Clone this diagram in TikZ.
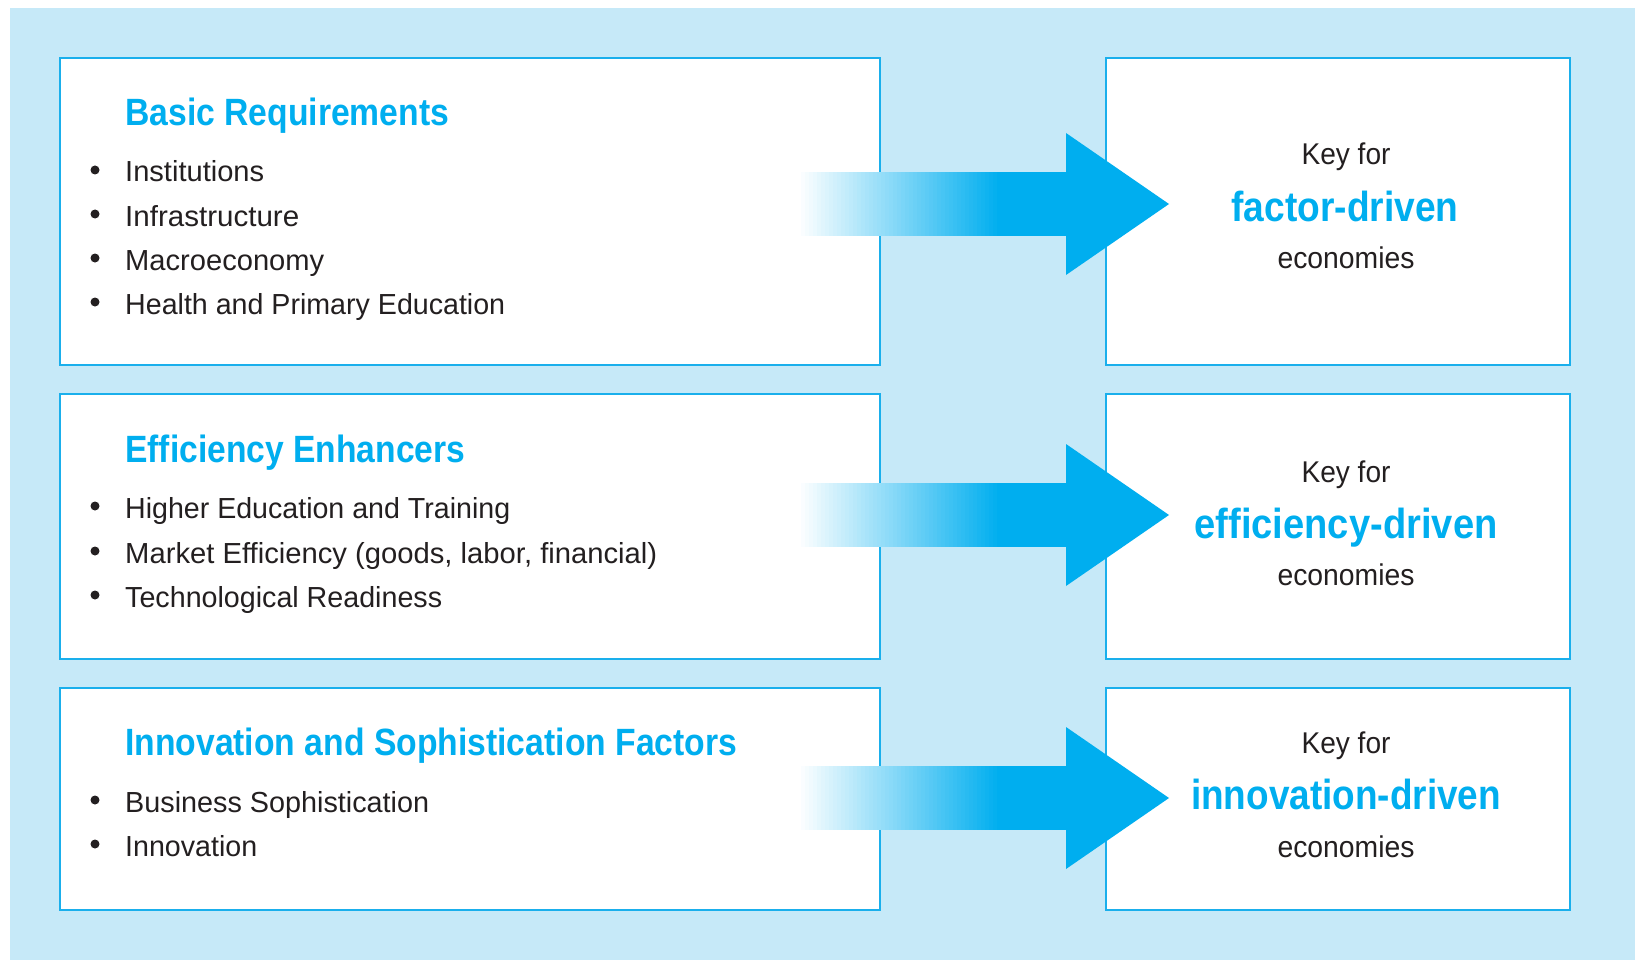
\documentclass[tikz,border=0pt]{standalone}
\usepackage{fontspec}
\usepackage{graphicx}
\setmainfont{Liberation Sans}
\definecolor{cy}{HTML}{00AEEF}
\definecolor{bgb}{HTML}{C6E9F8}
\definecolor{boxline}{HTML}{1AAFEC}
\definecolor{txt}{HTML}{231F20}
\newcommand\fitw[2]{\resizebox{#1pt}{\height}{#2}}
\tikzset{
  panel/.style={draw=boxline, line width=2pt, fill=white, anchor=north west, inner sep=0pt},
  ttl/.style={anchor=base west, inner sep=0pt, text=cy, font=\fontsize{38}{40}\selectfont\bfseries},
  itm/.style={anchor=base west, inner sep=0pt, text=txt, font=\fontsize{29}{31}\selectfont},
  bul/.style={circle, fill=txt, inner sep=0pt, minimum size=9pt},
  keyfor/.style={anchor=base, inner sep=0pt, text=txt, font=\fontsize{30}{32}\selectfont},
  keylbl/.style={anchor=base, inner sep=0pt, text=cy, font=\fontsize{42}{44}\selectfont\bfseries},
}
\begin{document}
\begin{tikzpicture}[x=1pt,y=-1pt]
\useasboundingbox (0,0) rectangle (1635,960);
\fill[white] (0,0) rectangle (1635,960);
\fill[bgb] (10,8) rectangle (1635,960);

% panels
\node[panel, minimum width=820pt, minimum height=307pt] (L1) at (59,57) {};
\node[panel, minimum width=820pt, minimum height=265pt] (L2) at (59,393) {};
\node[panel, minimum width=820pt, minimum height=222pt] (L3) at (59,687) {};
\node[panel, minimum width=464pt, minimum height=307pt] (R1) at (1105,57) {};
\node[panel, minimum width=464pt, minimum height=265pt] (R2) at (1105,393) {};
\node[panel, minimum width=464pt, minimum height=222pt] (R3) at (1105,687) {};

% block arrows (gradient shaft built from thin strips)
\foreach \c in {204,515,798}{
  \fill[cy] (1000,\c-32) rectangle (1067,\c+32);
  \foreach \i in {0,...,50}{
    \pgfmathsetmacro{\pc}{\i*2}
    \pgfmathsetmacro{\xa}{797+\i*4}
    \fill[cy!\pc!white] (\xa,\c-32) rectangle (\xa+4.6,\c+32);
  }
  \fill[cy] (1066,\c-71) -- (1169,\c) -- (1066,\c+71) -- cycle;
}

% left panel 1
\node[ttl] (t1) at (125,126) {\fitw{324}{Basic Requirements}};
\node[itm] (i11) at (125,182) {\fitw{139}{Institutions}};
\node[itm] (i12) at (125,226) {\fitw{174}{Infrastructure}};
\node[itm] (i13) at (125,270) {\fitw{199}{Macroeconomy}};
\node[itm] (i14) at (125,314) {\fitw{380}{Health and Primary Education}};
\node[bul] (b11) at (95,170) {};
\node[bul] (b12) at (95,214) {};
\node[bul] (b13) at (95,258) {};
\node[bul] (b14) at (95,302) {};

% left panel 2
\node[ttl] (t2) at (125,462) {\fitw{340}{Efficiency Enhancers}};
\node[itm] (i21) at (125,518) {\fitw{385}{Higher Education and Training}};
\node[itm] (i22) at (125,563) {\fitw{532}{Market Efficiency (goods, labor, financial)}};
\node[itm] (i23) at (125,607) {\fitw{317}{Technological Readiness}};
\node[bul] (b21) at (95,506) {};
\node[bul] (b22) at (95,551) {};
\node[bul] (b23) at (95,595) {};

% left panel 3
\node[ttl] (t3) at (125,755) {\fitw{612}{Innovation and Sophistication Factors}};
\node[itm] (i31) at (125,812) {\fitw{304}{Business Sophistication}};
\node[itm] (i32) at (125,856) {\fitw{132}{Innovation}};
\node[bul] (b31) at (95,800) {};
\node[bul] (b32) at (95,844) {};

% right panels
\node[keyfor] (k1) at (1346,165) {\fitw{89}{Key for}};
\node[keylbl] (d1) at (1345,222) {\fitw{227}{factor-driven}};
\node[keyfor] (e1) at (1346,268) {\fitw{137}{economies}};

\node[keyfor] (k2) at (1346,482) {\fitw{89}{Key for}};
\node[keylbl] (d2) at (1346,538) {\fitw{303}{efficiency-driven}};
\node[keyfor] (e2) at (1346,585) {\fitw{137}{economies}};

\node[keyfor] (k3) at (1346,753) {\fitw{89}{Key for}};
\node[keylbl] (d3) at (1346,809) {\fitw{310}{innovation-driven}};
\node[keyfor] (e3) at (1346,857) {\fitw{137}{economies}};
\end{tikzpicture}
\end{document}
